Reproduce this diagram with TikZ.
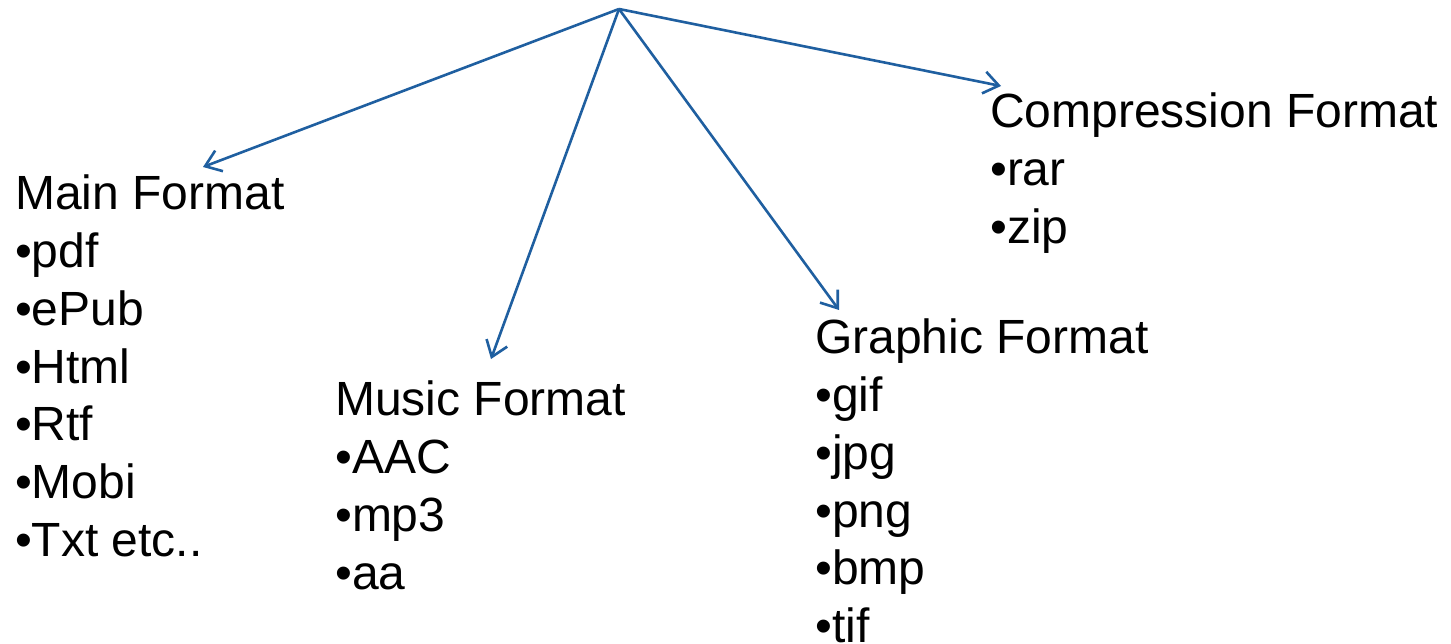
\documentclass[tikz,border=0pt]{standalone}
\usepackage{fontspec}
\setmainfont{Liberation Sans}
\usetikzlibrary{arrows.meta}
\definecolor{linkblue}{RGB}{31,95,160}
\tikzset{
  grp/.style={anchor=north west, inner sep=0pt, align=left, font=\fontsize{48}{57.7}\selectfont, text=black},
  link/.style={draw=linkblue, line width=2.6pt, -{Straight Barb[length=15pt, width=22pt, line width=2.6pt]}}
}
\begin{document}
\begin{tikzpicture}[x=1pt, y=-1pt]
\useasboundingbox (0,0) rectangle (1451,644);
\fill[white] (0,0) rectangle (1451,644);
\coordinate (apex) at (619,9);
\coordinate (mainTip) at (203,167);
\coordinate (musicTip) at (491,359);
\coordinate (graphicTip) at (839,310);
\coordinate (compTip) at (1001,86);
\node[grp] (main) at (15,175) {Main Format\\\textbullet pdf\\\textbullet ePub\\\textbullet Html\\\textbullet Rtf\\\textbullet Mobi\\\textbullet Txt etc..};
\node[grp] (music) at (335,381) {Music Format\\\textbullet AAC\\\textbullet mp3\\\textbullet aa};
\node[grp] (graphic) at (815,319) {Graphic Format\\\textbullet gif\\\textbullet jpg\\\textbullet png\\\textbullet bmp\\\textbullet tif};
\node[grp] (comp) at (990,93) {Compression Format\\\textbullet rar\\\textbullet zip};
\draw[link] (apex) -- (mainTip);
\draw[link] (apex) -- (musicTip);
\draw[link] (apex) -- (graphicTip);
\draw[link] (apex) -- (compTip);
\end{tikzpicture}
\end{document}
